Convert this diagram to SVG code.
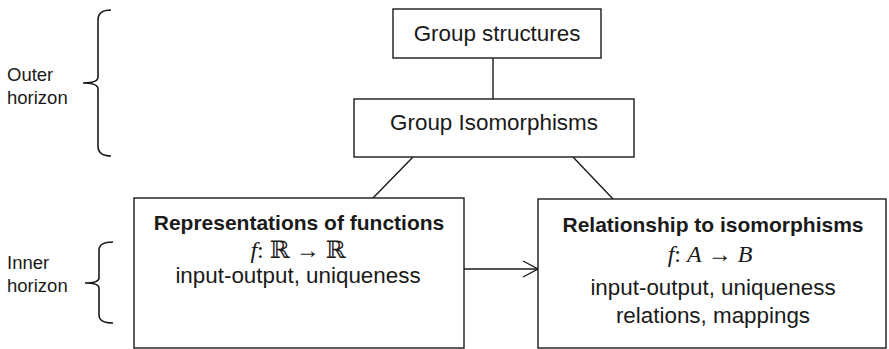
<svg xmlns="http://www.w3.org/2000/svg" width="889" height="349" viewBox="0 0 889 349">
<style>
.box{fill:#fff;stroke:#1a1a1a;stroke-width:1.4}
.t{font-family:"Liberation Sans",Arial,sans-serif;font-size:22.4px;fill:#1a1a1a;text-anchor:middle}
.b{font-weight:bold;font-size:21px}
.m{font-family:"Liberation Serif","DejaVu Serif",serif;font-size:24px;fill:#1a1a1a;text-anchor:middle}
.side{font-family:"Liberation Sans",Arial,sans-serif;font-size:18.5px;fill:#1a1a1a}
.ln{fill:none;stroke:#1a1a1a;stroke-width:1.4}
.br{fill:none;stroke:#1a1a1a;stroke-width:1.6}
</style>
<rect width="889" height="349" fill="#fff"/>
<g id="outer-horizon">
<path class="br" d="M111,10 Q98,10 98,20 L98,77 Q98,83 83,83 Q98,83 98,89 L98,146 Q98,156 111,156"/>
<text class="side" x="7" y="81">Outer</text>
<text class="side" x="7" y="104">horizon</text>
</g>
<g id="inner-horizon">
<path class="br" d="M113,242 Q99,242 99,250 L99,278 Q99,283 85,283 Q99,283 99,288 L99,315 Q99,323 113,323"/>
<text class="side" x="7" y="269">Inner</text>
<text class="side" x="7" y="292">horizon</text>
</g>
<g id="connectors">
<line class="ln" x1="493" y1="58" x2="493" y2="99"/>
<line class="ln" x1="413" y1="157" x2="373" y2="198"/>
<line class="ln" x1="573" y1="157" x2="613" y2="199"/>
<line class="ln" x1="464" y1="269" x2="537" y2="269"/>
<polyline class="ln" points="523,261 538,269 523,277"/>
</g>
<g id="group-structures">
<rect class="box" x="393" y="9" width="208" height="49"/>
<text class="t" x="497" y="41">Group structures</text>
</g>
<g id="group-isomorphisms">
<rect class="box" x="354" y="99" width="280" height="58"/>
<text class="t" x="494" y="130">Group Isomorphisms</text>
</g>
<g id="representations">
<rect class="box" x="134" y="198" width="330" height="150"/>
<text class="t b" x="299" y="230">Representations of functions</text>
<text class="m" x="298" y="258"><tspan font-style="italic">f</tspan>: ℝ → ℝ</text>
<text class="t" x="298" y="283">input-output, uniqueness</text>
</g>
<g id="relationship">
<rect class="box" x="538" y="199" width="348" height="149"/>
<text class="t b" x="713" y="232">Relationship to isomorphisms</text>
<text class="m" x="710" y="262"><tspan font-style="italic">f</tspan>: <tspan font-style="italic">A</tspan> → <tspan font-style="italic">B</tspan></text>
<text class="t" x="713" y="295">input-output, uniqueness</text>
<text class="t" x="713" y="323">relations, mappings</text>
</g>
</svg>
